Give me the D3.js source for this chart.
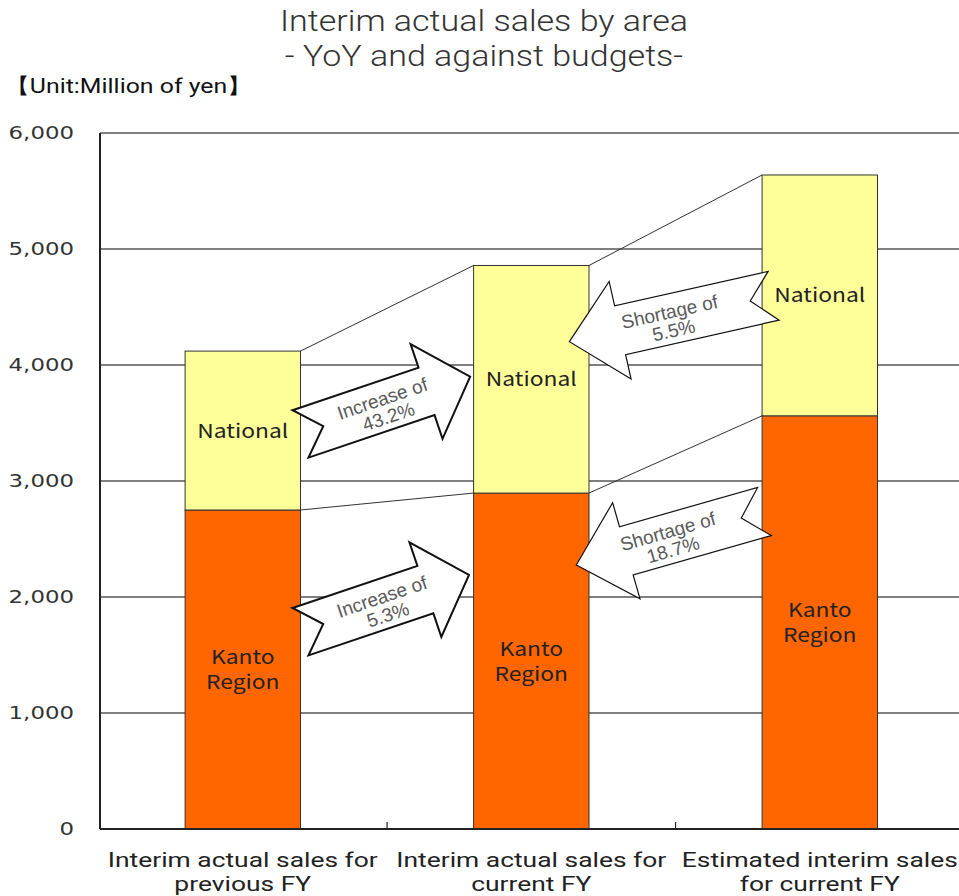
<!DOCTYPE html>
<html>
<head>
<meta charset="utf-8">
<script src="https://cdn.jsdelivr.net/npm/d3@7/dist/d3.min.js"></script>
<style>
  html, body { margin: 0; padding: 0; background: #fff; }
  svg { display: block; }
</style>
</head>
<body>
<svg id="chart" width="959" height="896"></svg>
<script>
// Interim sales, million yen, split by area
const categories = [
  ["Interim actual sales for", "previous FY"],
  ["Interim actual sales for", "current FY"],
  ["Estimated interim sales", "for current FY"]
];
const kanto = [2750, 2896, 3562];
const national = [1370, 1962, 2076];
const seriesNames = [["Kanto", "Region"], ["National"]];
const yTicks = [0, 1000, 2000, 3000, 4000, 5000, 6000];
const titleLines = ["Interim actual sales by area", "- YoY and against budgets-"];
const unitLabel = "【Unit:Million of yen】";

const W = 959, H = 896;
const plot = { left: 100, right: 962.6, top: 133, bottom: 829 };
const svg = d3.select("#chart");

const x = d3.scaleBand()
  .domain(d3.range(categories.length))
  .range([plot.left, plot.right])
  .paddingInner(0.6)
  .paddingOuter(0.295);
const y = d3.scaleLinear().domain([0, 6000]).range([plot.bottom, plot.top]);
const step = x.step();
const bw = x.bandwidth();

// stretch or squeeze text nodes by a width factor
function fit(sel, factor) {
  sel.each(function () {
    const len = this.getComputedTextLength();
    d3.select(this).attr("textLength", len * factor).attr("lengthAdjust", "spacingAndGlyphs");
  });
}
// factor that brings the first node of a selection to a target width
function factorFor(sel, width) {
  return width / sel.node().getComputedTextLength();
}

// titles
const titleFont = "Roboto, 'Noto Sans', sans-serif";
const titles = svg.append("g").selectAll("text").data(titleLines).join("text")
  .attr("x", 484).attr("y", (d, i) => 31 + i * 35)
  .attr("text-anchor", "middle")
  .attr("font-family", titleFont).attr("font-weight", 300)
  .attr("font-size", 29).attr("fill", "#333")
  .text(d => d);
titles.call(fit, factorFor(titles, 408));

const unit = svg.append("text")
  .attr("x", 5).attr("y", 93)
  .attr("font-family", titleFont).attr("font-weight", 400)
  .attr("font-size", 21).attr("fill", "#111")
  .text(unitLabel);
unit.call(fit, factorFor(unit, 247));

// gridlines
svg.append("g").selectAll("line").data(yTicks.filter(d => d > 0)).join("line")
  .attr("x1", plot.left).attr("x2", W)
  .attr("y1", d => y(d)).attr("y2", d => y(d))
  .attr("stroke", "#555").attr("stroke-width", 1.6);

// y axis labels
const yAxis = svg.append("g")
  .attr("transform", `translate(${plot.left},0)`)
  .call(d3.axisLeft(y).tickValues(yTicks).tickFormat(d3.format(",")).tickSize(0).tickPadding(26));
yAxis.select(".domain").remove();
yAxis.selectAll("text")
  .attr("font-family", "'DejaVu Sans', sans-serif")
  .attr("font-size", 18).attr("fill", "#333")
  .call(fit, 1.27);

// stacked bars
const stacks = categories.map((c, i) => ({
  i,
  k0: 0, k1: kanto[i],
  n0: kanto[i], n1: kanto[i] + national[i]
}));
const barG = svg.append("g");
barG.selectAll("rect.kanto").data(stacks).join("rect")
  .attr("class", "kanto")
  .attr("x", d => x(d.i)).attr("width", bw)
  .attr("y", d => y(d.k1)).attr("height", d => y(d.k0) - y(d.k1))
  .attr("fill", "#FF6600").attr("stroke", "#333").attr("stroke-width", 1);
barG.selectAll("rect.nat").data(stacks).join("rect")
  .attr("class", "nat")
  .attr("x", d => x(d.i)).attr("width", bw)
  .attr("y", d => y(d.n1)).attr("height", d => y(d.n0) - y(d.n1))
  .attr("fill", "#FFFF99").attr("stroke", "#333").attr("stroke-width", 1);

// series lines between neighbouring bars
const seriesLines = [];
for (let i = 0; i < stacks.length - 1; i++) {
  seriesLines.push([x(i) + bw, y(stacks[i].k1), x(i + 1), y(stacks[i + 1].k1)]);
  seriesLines.push([x(i) + bw, y(stacks[i].n1), x(i + 1), y(stacks[i + 1].n1)]);
}
svg.append("g").selectAll("line").data(seriesLines).join("line")
  .attr("x1", d => d[0]).attr("y1", d => d[1])
  .attr("x2", d => d[2]).attr("y2", d => d[3])
  .attr("stroke", "#333").attr("stroke-width", 1);

// axes lines
svg.append("line")
  .attr("x1", plot.left).attr("x2", plot.left)
  .attr("y1", plot.top).attr("y2", plot.bottom)
  .attr("stroke", "#222").attr("stroke-width", 2);
svg.append("line")
  .attr("x1", plot.left).attr("x2", W)
  .attr("y1", plot.bottom).attr("y2", plot.bottom)
  .attr("stroke", "#222").attr("stroke-width", 2);
svg.append("g").selectAll("line").data(d3.range(1, categories.length)).join("line")
  .attr("x1", d => x(d) - step * 0.3).attr("x2", d => x(d) - step * 0.3)
  .attr("y1", plot.bottom).attr("y2", plot.bottom - 7)
  .attr("stroke", "#222").attr("stroke-width", 1.2);

// category labels
const catG = svg.append("g");
categories.forEach((lines, i) => {
  catG.append("g").selectAll("text").data(lines).join("text")
    .attr("x", x(i) + bw / 2).attr("y", (d, j) => 867 + j * 24)
    .attr("text-anchor", "middle")
    .attr("font-family", titleFont).attr("font-weight", 400)
    .attr("font-size", 20).attr("fill", "#222")
    .text(d => d);
});
const catTexts = catG.selectAll("text");
catTexts.call(fit, factorFor(catTexts, 270));

// block arrows comparing the bars
const arrows = [
  { tail: [0, 1.0, 3406], tip: [1, -0.03, 3899], text: ["Increase of", "43.2%"], head: 46, sw: 2 },
  { tail: [0, 1.0, 1701], tip: [1, -0.04, 2190], text: ["Increase of", "5.3%"], head: 46, sw: 2 },
  { tail: [2, 0.1, 4597], tip: [1, 0.83, 4201], text: ["Shortage of", "5.5%"], head: 52, sw: 1.2 },
  { tail: [2, 0.02, 2737], tip: [1, 0.89, 2276], text: ["Shortage of", "18.7%"], head: 52, sw: 1.2 }
];
const ax = a => x(a[0]) + a[1] * bw;
const arrowG = svg.append("g");
arrows.forEach(a => {
  const x0 = ax(a.tail), y0 = y(a.tail[2]);
  const x1 = ax(a.tip), y1 = y(a.tip[2]);
  const L = Math.hypot(x1 - x0, y1 - y0);
  const ang = Math.atan2(y1 - y0, x1 - x0) * 180 / Math.PI;
  const s = 25, h = 50, hl = a.head, n = 24;
  const pts = [[0, -s], [L - hl, -s], [L - hl, -h], [L, 0], [L - hl, h], [L - hl, s], [0, s], [n, 0]];
  arrowG.append("path")
    .attr("d", "M" + pts.map(p => p.join(",")).join("L") + "Z")
    .attr("transform", `translate(${x0},${y0}) rotate(${ang})`)
    .attr("fill", "#fff").attr("stroke", "#111").attr("stroke-width", a.sw)
    .attr("stroke-linejoin", "miter");
  const tAng = Math.abs(ang) > 90 ? ang - 180 * Math.sign(ang) : ang;
  const mx = (x0 + x1) / 2, my = (y0 + y1) / 2;
  arrowG.append("g")
    .attr("transform", `translate(${mx},${my + 2}) rotate(${tAng})`)
    .selectAll("text").data(a.text).join("text")
    .attr("x", 0).attr("y", (d, j) => (j - 0.5) * 19 + 7)
    .attr("text-anchor", "middle")
    .attr("font-family", "'Liberation Sans', Arial, sans-serif")
    .attr("font-size", 19).attr("fill", "#5a5a5a")
    .text(d => d);
});

// series labels inside the segments
const labelFont = "'Noto Sans CJK JP', 'Noto Sans', sans-serif";
const labG = svg.append("g");
stacks.forEach(d => {
  const cx = x(d.i) + bw / 2;
  labG.append("text")
    .attr("x", cx).attr("y", y((d.n0 + d.n1) / 2) + 7)
    .attr("text-anchor", "middle")
    .attr("font-family", labelFont).attr("font-weight", 400)
    .attr("font-size", 19).attr("fill", "#222")
    .text(seriesNames[1][0])
    .call(fit, 1.2);
  labG.append("g").selectAll("text").data(seriesNames[0]).join("text")
    .attr("x", cx).attr("y", (t, j) => y((d.k0 + d.k1) / 2) + (j - 0.5) * 25 + 7)
    .attr("text-anchor", "middle")
    .attr("font-family", labelFont).attr("font-weight", 400)
    .attr("font-size", 19).attr("fill", "#222")
    .text(t => t)
    .call(fit, 1.2);
});
</script>
</body>
</html>
